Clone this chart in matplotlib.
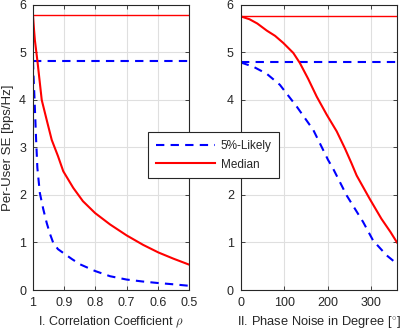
import matplotlib
matplotlib.use("Agg")
import matplotlib.pyplot as plt
from matplotlib.lines import Line2D

plt.rcParams['font.family'] = ['Liberation Sans', 'DejaVu Sans']
plt.rcParams['mathtext.fontset'] = 'cm'

# Left panel: correlation coefficient
rho_med = [1.0, 0.997, 0.994, 0.986, 0.972, 0.955, 0.94, 0.92, 0.903, 0.871, 0.84, 0.801, 0.753, 0.700, 0.647, 0.598, 0.55, 0.502]
med_rho = [5.78, 5.5, 5.26, 4.83, 4.00, 3.55, 3.16, 2.82, 2.50, 2.15, 1.87, 1.62, 1.38, 1.15, 0.95, 0.79, 0.66, 0.54]
rho_low = [1.0, 0.999, 0.997, 0.995, 0.990, 0.986, 0.978, 0.967, 0.956, 0.945, 0.935, 0.92, 0.903, 0.875, 0.849, 0.801, 0.753, 0.700, 0.65, 0.604, 0.55, 0.502]
low_rho = [4.82, 4.6, 4.3, 4.00, 3.16, 2.57, 2.04, 1.70, 1.41, 1.17, 0.99, 0.86, 0.78, 0.65, 0.54, 0.40, 0.29, 0.22, 0.18, 0.15, 0.12, 0.09]
ref_med_rho = 5.78
ref_low_rho = 4.82

# Right panel: phase noise
deg_med = [0, 20, 38, 60, 79, 98, 121, 136, 155, 175, 198, 221, 240, 255, 267, 297, 324, 345, 360]
med_deg = [5.76, 5.70, 5.61, 5.46, 5.35, 5.20, 4.99, 4.78, 4.45, 4.07, 3.69, 3.34, 2.98, 2.67, 2.41, 1.92, 1.50, 1.22, 1.00]
deg_low = [0, 29, 60, 90, 129, 167, 201, 213, 244, 282, 305, 336, 360]
low_deg = [4.79, 4.70, 4.55, 4.32, 3.86, 3.37, 2.74, 2.55, 1.99, 1.43, 1.04, 0.73, 0.55]
ref_med_deg = 5.76
ref_low_deg = 4.79

labels = ['5%-Likely', 'Median']
xlabels = [r'I. Correlation Coefficient $\rho$', r'II. Phase Noise in Degree [$^{\circ}$]']
ylabel = 'Per-User SE [bps/Hz]'

fig = plt.figure(figsize=(4.02, 3.32), dpi=100)
ax1 = fig.add_axes([0.0821, 0.1265, 0.388, 0.8585])
ax2 = fig.add_axes([0.599, 0.1265, 0.3886, 0.8585])

blue = '#0000ff'
red = '#ff0000'
txtc = '#262626'
dash = (0, (4, 3))

def style(ax):
    ax.grid(True, color='#dfdfdf', linewidth=0.8)
    ax.set_axisbelow(True)
    for s in ax.spines.values():
        s.set_color('#262626')
        s.set_linewidth(0.8)
    ax.tick_params(direction='in', top=True, right=True, length=3, width=0.6,
                   labelsize=9, colors=txtc, pad=5)
    ax.set_ylim(0, 6)
    ax.set_yticks([0, 1, 2, 3, 4, 5, 6])

# Left
ax1.plot([1.0, 0.5], [ref_med_rho, ref_med_rho], color=red, lw=1.0)
ax1.plot([1.0, 0.5], [ref_low_rho, ref_low_rho], color=blue, lw=1.5, ls=dash)
ax1.plot(rho_med, med_rho, color=red, lw=1.5)
ax1.plot(rho_low, low_rho, color=blue, lw=1.5, ls=dash)
ax1.set_xlim(1.0, 0.5)
ax1.set_xticks([1.0, 0.9, 0.8, 0.7, 0.6, 0.5])
ax1.set_xticklabels(['1', '0.9', '0.8', '0.7', '0.6', '0.5'])
style(ax1)
ax1.set_xlabel(xlabels[0], fontsize=9, color=txtc, labelpad=4)
ax1.set_ylabel(ylabel, fontsize=9.5, color=txtc, labelpad=4)

# Right
ax2.plot([0, 360], [ref_med_deg, ref_med_deg], color=red, lw=1.0)
ax2.plot([0, 360], [ref_low_deg, ref_low_deg], color=blue, lw=1.5, ls=dash)
ax2.plot(deg_med, med_deg, color=red, lw=1.5)
ax2.plot(deg_low, low_deg, color=blue, lw=1.5, ls=dash)
ax2.set_xlim(0, 360)
ax2.set_xticks([0, 100, 200, 300])
style(ax2)
ax2.set_xlabel(xlabels[1], fontsize=9.3, color=txtc, labelpad=4)

handles = [Line2D([], [], color=blue, lw=1.5, ls=dash),
           Line2D([], [], color=red, lw=1.5)]
leg = fig.legend(handles, labels, loc='center',
                 bbox_to_anchor=(0.365, 0.466, 0.333, 0.1325),
                 fontsize=8.5, frameon=True, fancybox=False, framealpha=1,
                 edgecolor='#262626', handlelength=5.0, handletextpad=0.5,
                 borderpad=0.65, labelspacing=0.55, borderaxespad=0)
leg.get_frame().set_linewidth(0.8)
for t in leg.get_texts():
    t.set_color(txtc)

fig.savefig('out.png', dpi=100)
